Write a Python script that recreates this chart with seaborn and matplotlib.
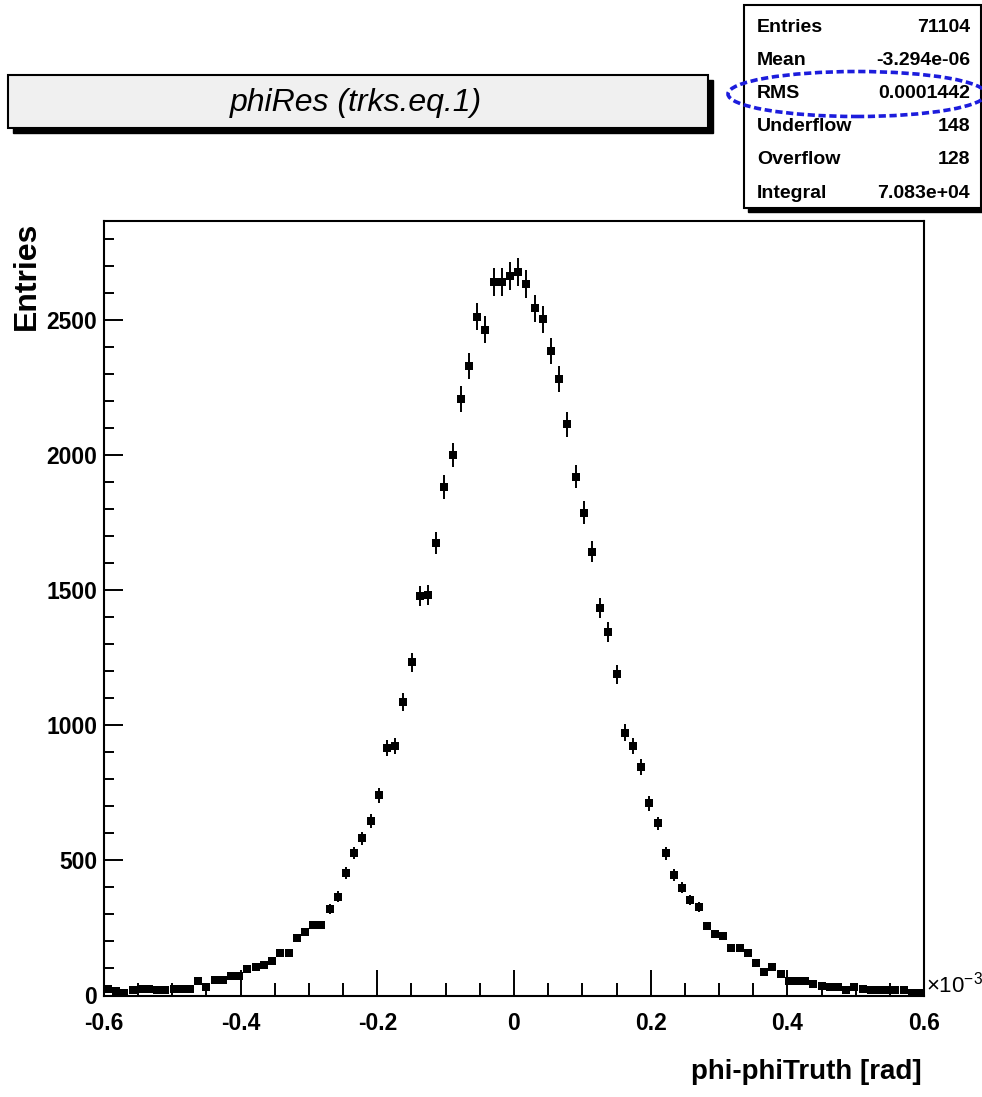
import numpy as np
import pandas as pd
import matplotlib
matplotlib.use("Agg")
import matplotlib.pyplot as plt
from matplotlib.patches import Rectangle, Ellipse
from matplotlib.ticker import MultipleLocator
import seaborn as sns

# --- histogram data (x in units of 1e-3 rad, 100 bins from -0.6 to 0.6) ---
x_min, x_max, n_bins = -0.6, 0.6, 100
counts = [
    23, 18, 10, 20, 25, 25, 20, 20, 25, 25,
    23, 52, 30, 57, 57, 72, 72, 97, 107, 113,
    129, 158, 158, 212, 234, 261, 261, 319, 366, 454,
    527, 581, 646, 741, 916, 924, 1085, 1234, 1478, 1482,
    1676, 1881, 2000, 2208, 2330, 2511, 2463, 2639, 2639, 2663,
    2679, 2632, 2543, 2503, 2384, 2281, 2114, 1920, 1787, 1643,
    1433, 1345, 1189, 973, 923, 845, 711, 637, 526, 446,
    399, 353, 328, 257, 226, 219, 175, 175, 158, 122,
    88, 107, 80, 55, 55, 54, 44, 35, 31, 31,
    20, 32, 23, 19, 19, 20, 20, 20, 11, 11,
]

stat_names = ["Entries", "Mean", "RMS", "Underflow", "Overflow", "Integral"]
stat_values = ["71104", "-3.294e-06", "0.0001442", "148", "128", "7.083e+04"]

hist_title = "phiRes (trks.eq.1)"
x_title = "phi-phiTruth [rad]"
y_title = "Entries"
x_ticks = [-0.6, -0.4, -0.2, 0.0, 0.2, 0.4, 0.6]
x_ticklabels = ["-0.6", "-0.4", "-0.2", "0", "0.2", "0.4", "0.6"]
y_ticks = [0, 500, 1000, 1500, 2000, 2500]

edges = np.linspace(x_min, x_max, n_bins + 1)
df = pd.DataFrame({"x": 0.5 * (edges[:-1] + edges[1:]), "n": counts})
df["err"] = np.sqrt(df["n"])

# --- style ---
sns.set_style("ticks")
plt.rcParams["font.family"] = ["Liberation Sans", "DejaVu Sans"]
plt.rcParams["font.weight"] = "bold"
plt.rcParams["text.color"] = "black"
plt.rcParams["mathtext.default"] = "regular"

W, H = 982, 1097
fig = plt.figure(figsize=(W / 100, H / 100), dpi=100)
fig.patch.set_facecolor("white")


def fx(px):
    return px / W


def fy(py):
    return 1 - py / H


# main frame
ax = fig.add_axes([fx(104), fy(995.5), (924 - 104) / W, (995.5 - 221) / H])
ax.errorbar(df["x"], df["n"], yerr=df["err"], fmt="none", ecolor="black",
            elinewidth=1.4, capsize=0, zorder=2)
sns.scatterplot(data=df, x="x", y="n", marker="s", color="black", s=34,
                linewidth=0, ax=ax, zorder=3, legend=False)

ax.set_xlim(x_min, x_max)
ax.set_ylim(0, 2866)
ax.set_xlabel("")
ax.set_ylabel("")
ax.set_xticks(x_ticks, labels=x_ticklabels)
ax.set_yticks(y_ticks)
ax.xaxis.set_minor_locator(MultipleLocator(0.05))
ax.yaxis.set_minor_locator(MultipleLocator(100))
ax.tick_params(which="both", direction="in", top=False, right=False, color="black",
               labelcolor="black")
ax.tick_params(axis="x", which="major", length=19, width=1.4, pad=12, labelsize=16.5)
ax.tick_params(axis="x", which="minor", length=9.5, width=1.4)
ax.tick_params(axis="y", which="major", length=14, width=1.4, pad=5, labelsize=16.5)
ax.tick_params(axis="y", which="minor", length=7, width=1.4)
for sp in ax.spines.values():
    sp.set_linewidth(1.5)
    sp.set_color("black")

# axis titles
fig.text(fx(27), fy(222), y_title, rotation=90, ha="center", va="top",
         fontsize=23, fontweight="bold")
fig.text(fx(922), fy(1072), x_title, ha="right", va="center",
         fontsize=20, fontweight="bold")
fig.text(fx(926), fy(998), "×10$^{-3}$", ha="left", va="bottom",
         fontsize=16, fontweight="normal")

# title box with shadow
fig.patches.append(Rectangle((fx(13), fy(133)), (708 - 8) / W, (128 - 75) / H,
                             transform=fig.transFigure, facecolor="black",
                             edgecolor="black", zorder=1))
fig.patches.append(Rectangle((fx(8), fy(128)), (708 - 8) / W, (128 - 75) / H,
                             transform=fig.transFigure, facecolor="#f0f0f0",
                             edgecolor="black", linewidth=1.5, zorder=2))
fig.text(fx(356), fy(103), hist_title, ha="center", va="center", fontsize=23,
         fontstyle="italic", fontweight="normal", zorder=3)

# stats box with shadow
fig.patches.append(Rectangle((fx(748), fy(212)), (981 - 744) / W, (208 - 5) / H,
                             transform=fig.transFigure, facecolor="black",
                             edgecolor="black", zorder=1))
fig.patches.append(Rectangle((fx(744), fy(208)), (981 - 744) / W, (208 - 5) / H,
                             transform=fig.transFigure, facecolor="white",
                             edgecolor="black", linewidth=1.5, zorder=2))
for i, (name, val) in enumerate(zip(stat_names, stat_values)):
    yy = fy(27 + i * 33.2)
    fig.text(fx(757), yy, name, ha="left", va="center", fontsize=14, zorder=3)
    fig.text(fx(970), yy, val, ha="right", va="center", fontsize=14, zorder=3)

# blue ring around RMS
fig.patches.append(Ellipse((fx(857), fy(94)), 258 / W, 45 / H,
                           transform=fig.transFigure, fill=False,
                           edgecolor="#1c1cdc", linewidth=2.6,
                           linestyle=(0, (2, 1)), zorder=4, clip_on=False))

fig.savefig("out.png", dpi=100, facecolor="white")
